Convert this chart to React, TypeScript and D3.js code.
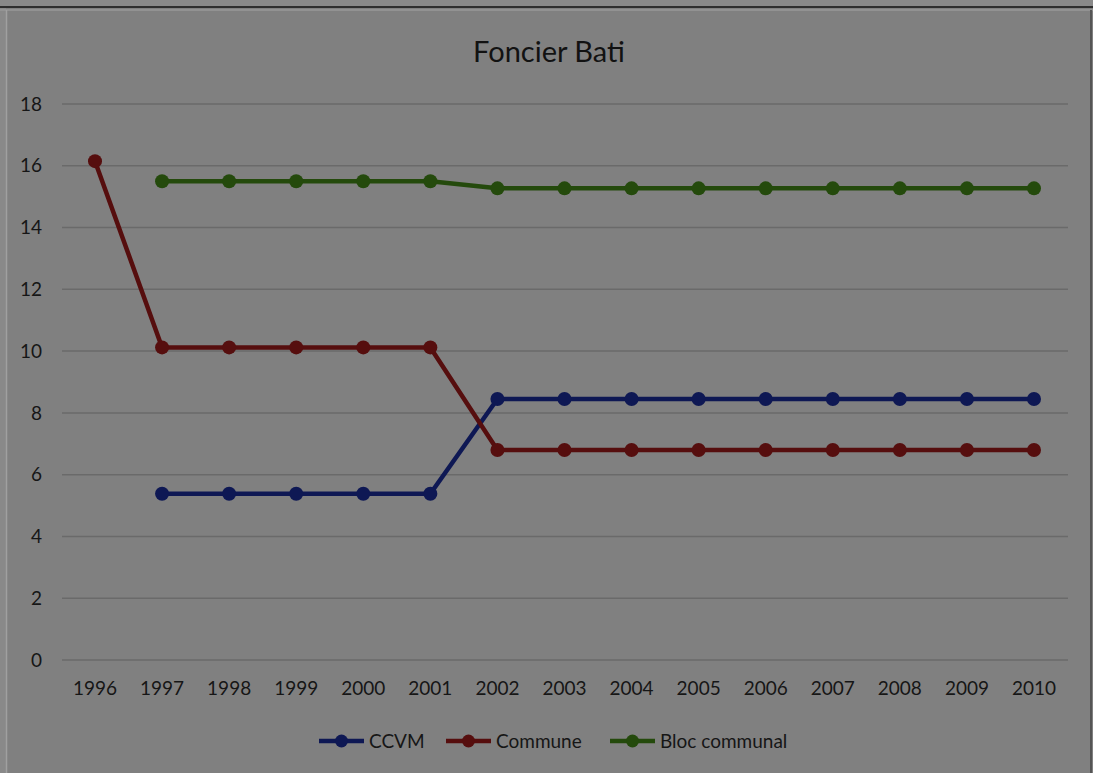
import React from 'react';
import * as d3 from 'd3';

const years = ['1996', '1997', '1998', '1999', '2000', '2001', '2002', '2003', '2004', '2005', '2006', '2007', '2008', '2009', '2010'];
const ccvm = [null, 5.38, 5.38, 5.38, 5.38, 5.38, 8.45, 8.45, 8.45, 8.45, 8.45, 8.45, 8.45, 8.45, 8.45];
const commune = [16.15, 10.12, 10.12, 10.12, 10.12, 10.12, 6.8, 6.8, 6.8, 6.8, 6.8, 6.8, 6.8, 6.8, 6.8];
const bloc = [null, 15.5, 15.5, 15.5, 15.5, 15.5, 15.27, 15.27, 15.27, 15.27, 15.27, 15.27, 15.27, 15.27, 15.27];
const yTicks = [0, 2, 4, 6, 8, 10, 12, 14, 16, 18];

const series = [
  { name: 'CCVM', values: ccvm, color: '#0e1854', lx: 319 },
  { name: 'Commune', values: commune, color: '#560e0e', lx: 446 },
  { name: 'Bloc communal', values: bloc, color: '#244a0c', lx: 610 },
];

const font = 'Lato, "Open Sans", sans-serif';

export default function App() {
  const W = 1093, H = 773;
  const x = d3.scalePoint<string>().domain(years).range([95, 1034]);
  const y = d3.scaleLinear().domain([0, 18]).range([660, 104]);
  const line = d3.line<number | null>()
    .defined(d => d != null)
    .x((_, i) => x(years[i])!)
    .y(d => y(d as number));

  return (
    <svg width={W} height={H} style={{ position: 'fixed', top: 0, left: 0, display: 'block', fontFamily: font }}>
      <rect width={W} height={H} fill="#808080" />
      <rect width={W} height={7} fill="#898989" />
      <rect width={6} height={H} fill="#898989" />
      <line x1={0} x2={W} y1={7} y2={7} stroke="#2e2e2e" strokeWidth={2} />
      <line x1={0} x2={W} y1={10} y2={10} stroke="#999" strokeWidth={1.5} />
      <line x1={6.5} x2={6.5} y1={10} y2={H} stroke="#a0a0a0" strokeWidth={1.5} />
      <line x1={1091} x2={1091} y1={10} y2={H} stroke="#555" strokeWidth={2} />

      <text x={549} y={62} textAnchor="middle" fontSize={29} fill="#121212">Foncier Bati</text>

      {yTicks.map(t => (
        <g key={t}>
          <line x1={62} x2={1068} y1={y(t)} y2={y(t)} stroke="#6a6a6a" strokeWidth={1.5} />
          <text x={42} y={y(t)} dy="0.35em" textAnchor="end" fontSize={19} fill="#161616">{t}</text>
        </g>
      ))}
      {years.map(yr => (
        <text key={yr} x={x(yr)} y={695} textAnchor="middle" fontSize={19} fill="#161616">{yr}</text>
      ))}

      {series.map(s => (
        <g key={s.name}>
          <path d={line(s.values) ?? ''} fill="none" stroke={s.color} strokeWidth={4.5} strokeLinejoin="round" />
          {s.values.map((v, i) => v == null ? null : (
            <circle key={i} cx={x(years[i])} cy={y(v)} r={7} fill={s.color} />
          ))}
        </g>
      ))}

      {series.map(s => (
        <g key={s.name} transform={`translate(${s.lx},741)`}>
          <line x1={0} x2={45} stroke={s.color} strokeWidth={4.5} />
          <circle cx={22.5} r={6.5} fill={s.color} />
          <text x={50} dy="0.35em" fontSize={19} fill="#161616">{s.name}</text>
        </g>
      ))}
    </svg>
  );
}
